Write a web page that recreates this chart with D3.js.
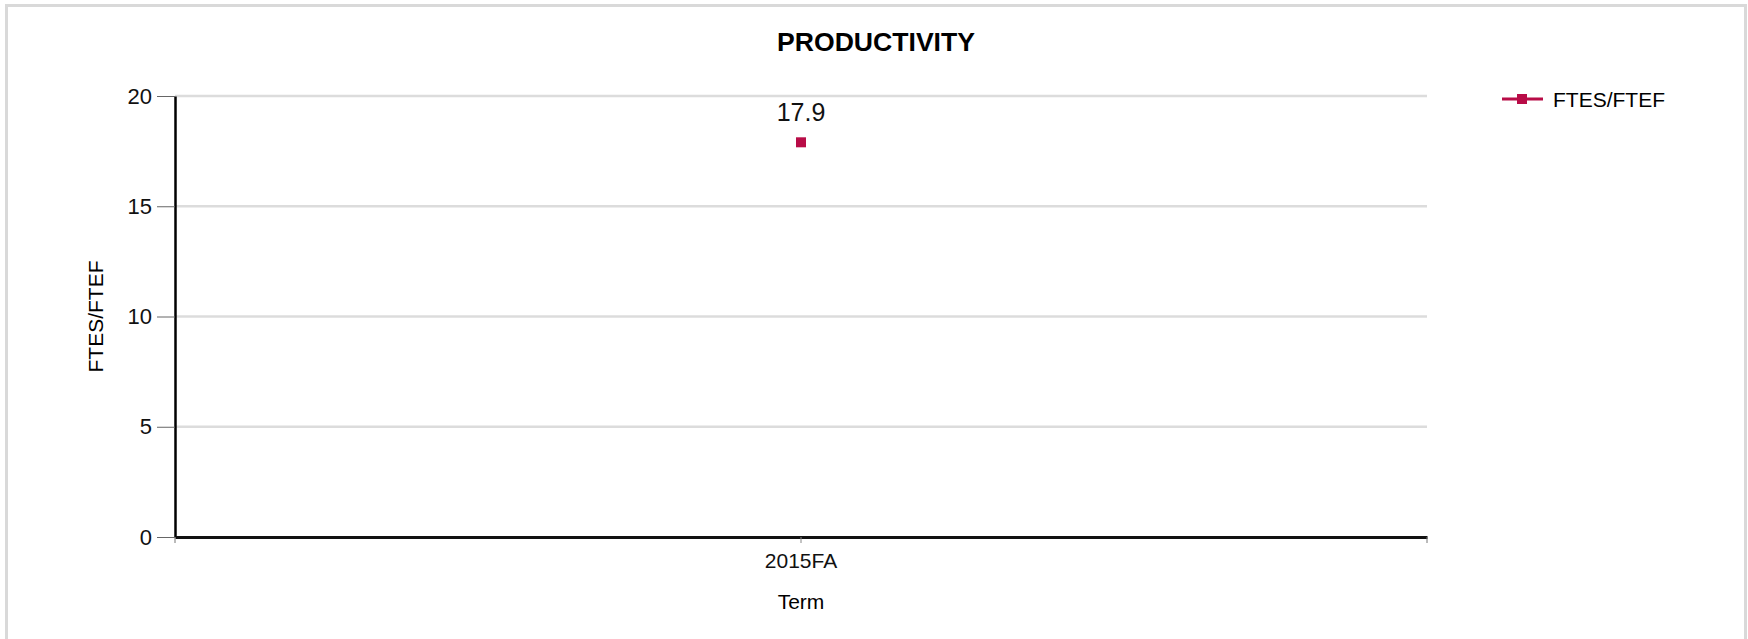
<!DOCTYPE html>
<html lang="en">
<head>
  <meta charset="utf-8">
  <title>Productivity</title>
  <script src="https://d3js.org/d3.v7.min.js"></script>
</head>
<style>
body {
  margin: 0;
  font-family: "Liberation Sans", Arial, sans-serif;
  background: #fff;
}
.tick text { fill: #111; }
</style>
<body>
<script>
var w = 1748;
var h = 639;

// data
var terms = ["2015FA"];
var seriesName = "FTES/FTEF";
var values = [17.9];
var yTicks = [0, 5, 10, 15, 20];

var color = "#b80c47";
var margin = {top: 96, right: 321, bottom: 102, left: 175};

var svg = d3.select("body")
  .append("svg")
  .attr("width", w)
  .attr("height", h);

// outer frame
svg.append("rect")
  .attr("x", 6.5).attr("y", 5.5)
  .attr("width", w - 9).attr("height", h + 20)
  .attr("fill", "none")
  .attr("stroke", "#d9d9d9")
  .attr("stroke-width", 3);

var x = d3.scaleBand()
  .domain(terms)
  .range([margin.left, w - margin.right])
  .padding(0);

var y = d3.scaleLinear()
  .domain([0, 20])
  .range([h - margin.bottom, margin.top]);

// gridlines
svg.append("g")
  .selectAll("line")
  .data(yTicks.filter(function(d) { return d > 0; }))
  .enter()
  .append("line")
  .attr("x1", x.range()[0])
  .attr("x2", x.range()[1])
  .attr("y1", function(d) { return y(d); })
  .attr("y2", function(d) { return y(d); })
  .attr("stroke", "#dcdcdc")
  .attr("stroke-width", 2.5);

// y axis
var yAxis = svg.append("g")
  .attr("transform", "translate(" + margin.left + ",0)")
  .call(d3.axisLeft(y).tickValues(yTicks).tickSize(18).tickSizeOuter(0).tickPadding(5));
yAxis.selectAll(".tick line").attr("stroke", "#666");
yAxis.selectAll(".tick text").style("font-size", "22px").style("font-family", "inherit");
yAxis.select(".domain").attr("stroke", "#000").attr("stroke-width", 2.5);

// x axis
var xAxis = svg.append("g")
  .attr("transform", "translate(0," + y(0) + ")")
  .call(d3.axisBottom(x).tickSize(6).tickSizeOuter(0).tickPadding(10));
xAxis.selectAll(".tick line").attr("stroke", "#888");
xAxis.selectAll(".tick text").style("font-size", "21px").style("font-family", "inherit");
xAxis.select(".domain").attr("stroke", "#111").attr("stroke-width", 3);
// end ticks at both edges of the category axis
xAxis.selectAll(".endtick")
  .data(x.range())
  .enter()
  .append("line")
  .attr("class", "endtick")
  .attr("x1", function(d) { return d; })
  .attr("x2", function(d) { return d; })
  .attr("y1", 0).attr("y2", 6)
  .attr("stroke", "#777");

// points
var cx = function(d, i) { return x(terms[i]) + x.bandwidth() / 2; };
svg.append("g")
  .selectAll("rect")
  .data(values)
  .enter()
  .append("rect")
  .attr("x", function(d, i) { return cx(d, i) - 5; })
  .attr("y", function(d) { return y(d) - 5; })
  .attr("width", 10).attr("height", 10)
  .attr("fill", color);

// value labels
svg.append("g")
  .selectAll("text")
  .data(values)
  .enter()
  .append("text")
  .attr("x", cx)
  .attr("y", function(d) { return y(d) - 21; })
  .attr("text-anchor", "middle")
  .style("font-size", "25px")
  .attr("fill", "#111")
  .text(function(d) { return d3.format(".1f")(d); });

// title
svg.append("text")
  .attr("x", w / 2 + 2)
  .attr("y", 51)
  .attr("text-anchor", "middle")
  .style("font-size", "26.6px")
  .style("font-weight", "bold")
  .text("PRODUCTIVITY");

// axis titles
svg.append("text")
  .attr("x", (x.range()[0] + x.range()[1]) / 2)
  .attr("y", 609)
  .attr("text-anchor", "middle")
  .style("font-size", "21px")
  .text("Term");

svg.append("text")
  .attr("transform", "translate(103," + (y.range()[0] + y.range()[1]) / 2 + ") rotate(-90)")
  .attr("text-anchor", "middle")
  .style("font-size", "21px")
  .text(seriesName);

// legend
var legend = svg.append("g").attr("transform", "translate(1502,99)");
legend.append("line")
  .attr("x1", 0).attr("x2", 41)
  .attr("stroke", color).attr("stroke-width", 3);
legend.append("rect")
  .attr("x", 15).attr("y", -5)
  .attr("width", 10).attr("height", 10)
  .attr("fill", color);
legend.append("text")
  .attr("x", 51).attr("y", 7.5)
  .style("font-size", "21px")
  .text(seriesName);
</script>
</body>
</html>
